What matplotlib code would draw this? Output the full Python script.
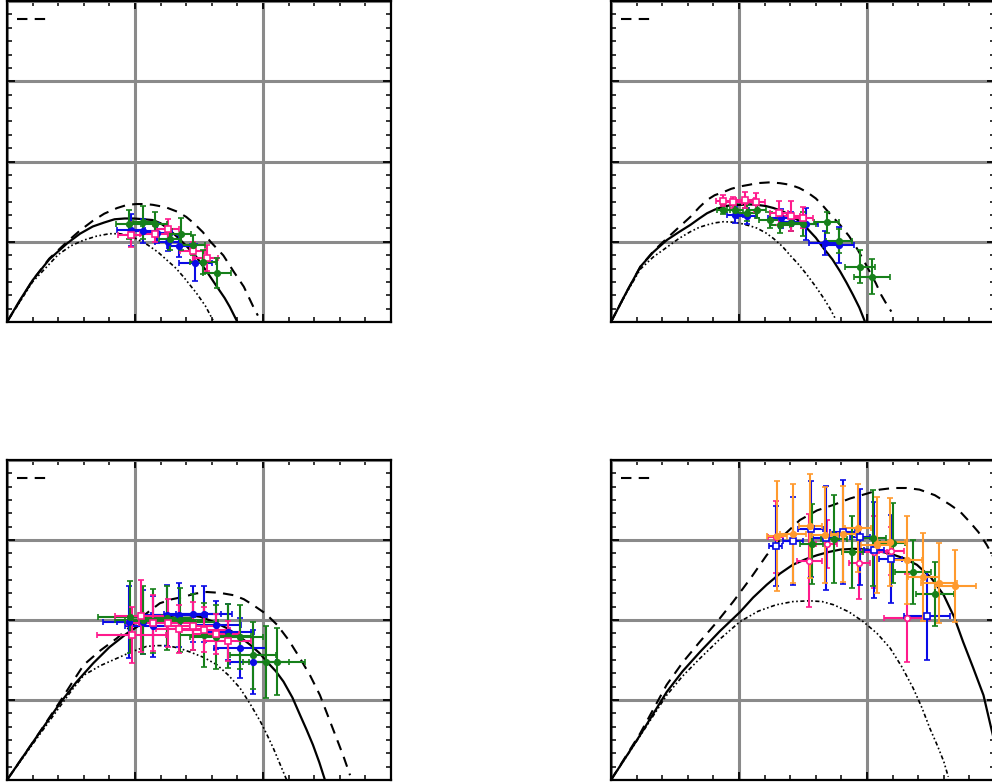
import numpy as np
import matplotlib
matplotlib.use("Agg")
import matplotlib.pyplot as plt
from matplotlib.ticker import MultipleLocator

# ---- model curves, x in [0, 3], y in [0, 4] ----
p1_solid_x = [0, 0.1, 0.2, 0.33, 0.47, 0.57, 0.67, 0.76, 0.84, 0.92, 0.99, 1.07, 1.14, 1.2, 1.26, 1.33, 1.4, 1.48, 1.56, 1.64, 1.70, 1.74, 1.80]
p1_solid_y = [0, 0.27, 0.52, 0.78, 0.98, 1.10, 1.19, 1.24, 1.28, 1.29, 1.29, 1.28, 1.27, 1.23, 1.16, 1.06, 0.95, 0.81, 0.63, 0.44, 0.30, 0.19, 0.0]
p1_dash_x = [0, 0.2, 0.33, 0.47, 0.57, 0.67, 0.76, 0.86, 0.94, 1.01, 1.08, 1.14, 1.24, 1.33, 1.40, 1.46, 1.53, 1.59, 1.69, 1.77, 1.85, 1.93, 1.96]
p1_dash_y = [0, 0.52, 0.79, 1.0, 1.14, 1.26, 1.35, 1.42, 1.46, 1.47, 1.47, 1.46, 1.43, 1.375, 1.31, 1.23, 1.12, 1.0, 0.83, 0.63, 0.44, 0.17, 0.08]
p1_dot_x = [0, 0.2, 0.4, 0.5, 0.6, 0.7, 0.8, 0.88, 0.95, 1.02, 1.1, 1.18, 1.25, 1.32, 1.38, 1.43, 1.48, 1.55, 1.61]
p1_dot_y = [0, 0.50, 0.84, 0.95, 1.02, 1.07, 1.10, 1.10, 1.08, 1.03, 0.96, 0.87, 0.77, 0.67, 0.56, 0.46, 0.36, 0.20, 0.02]

p2_solid_x = [0, 0.12, 0.23, 0.33, 0.435, 0.53, 0.62, 0.69, 0.75, 0.81, 0.88, 0.94, 1.01, 1.08, 1.14, 1.21, 1.27, 1.34, 1.40, 1.47, 1.53, 1.60, 1.66, 1.73, 1.79, 1.84, 1.89, 1.94, 1.98]
p2_solid_y = [0, 0.37, 0.69, 0.87, 1.02, 1.12, 1.21, 1.29, 1.355, 1.40, 1.44, 1.455, 1.46, 1.465, 1.46, 1.445, 1.42, 1.38, 1.33, 1.26, 1.17, 1.05, 0.92, 0.78, 0.63, 0.49, 0.34, 0.18, 0.02]
p2_dash_x = [0, 0.12, 0.23, 0.33, 0.435, 0.53, 0.62, 0.69, 0.75, 0.81, 0.88, 0.94, 1.01, 1.08, 1.14, 1.24, 1.32, 1.40, 1.47, 1.53, 1.60, 1.66, 1.72, 1.79, 1.86, 1.92, 1.97, 2.02, 2.07, 2.11, 2.15, 2.19]
p2_dash_y = [0, 0.37, 0.69, 0.88, 1.04, 1.18, 1.31, 1.43, 1.52, 1.58, 1.62, 1.66, 1.69, 1.71, 1.73, 1.74, 1.73, 1.71, 1.67, 1.62, 1.54, 1.44, 1.33, 1.21, 1.07, 0.92, 0.78, 0.63, 0.48, 0.34, 0.23, 0.13]
p2_dot_x = [0, 0.12, 0.23, 0.33, 0.435, 0.53, 0.62, 0.69, 0.75, 0.81, 0.88, 0.94, 1.01, 1.08, 1.14, 1.21, 1.27, 1.34, 1.40, 1.47, 1.53, 1.60, 1.66, 1.71, 1.75]
p2_dot_y = [0, 0.36, 0.66, 0.81, 0.93, 1.04, 1.125, 1.18, 1.21, 1.235, 1.25, 1.245, 1.23, 1.20, 1.17, 1.11, 1.04, 0.94, 0.83, 0.71, 0.59, 0.44, 0.30, 0.17, 0.05]

p3_solid_x = [0, 0.206, 0.414, 0.54, 0.674, 0.80, 0.935, 1.03, 1.117, 1.22, 1.326, 1.42, 1.51, 1.61, 1.716, 1.81, 1.90, 1.97, 2.03, 2.10, 2.16, 2.23, 2.29, 2.34, 2.39, 2.44, 2.48]
p3_solid_y = [0, 0.48, 0.96, 1.22, 1.46, 1.66, 1.83, 1.93, 2.0, 2.04, 2.06, 2.06, 2.04, 1.98, 1.90, 1.80, 1.69, 1.59, 1.48, 1.36, 1.23, 1.03, 0.81, 0.63, 0.44, 0.22, 0.02]
p3_dash_x = [0, 0.206, 0.414, 0.51, 0.60, 0.73, 0.857, 0.95, 1.04, 1.12, 1.195, 1.29, 1.38, 1.47, 1.56, 1.66, 1.77, 1.85, 1.92, 2.02, 2.11, 2.20, 2.29, 2.37, 2.445, 2.51, 2.575, 2.63, 2.68]
p3_dash_y = [0, 0.48, 0.98, 1.22, 1.44, 1.62, 1.77, 1.90, 2.02, 2.12, 2.21, 2.26, 2.29, 2.33, 2.35, 2.34, 2.31, 2.26, 2.19, 2.08, 1.94, 1.75, 1.52, 1.30, 1.06, 0.79, 0.52, 0.29, 0.06]
p3_dot_x = [0, 0.206, 0.414, 0.51, 0.60, 0.73, 0.857, 0.97, 1.09, 1.17, 1.25, 1.34, 1.43, 1.54, 1.64, 1.73, 1.82, 1.90, 1.98, 2.03, 2.08, 2.13, 2.185]
p3_dot_y = [0, 0.46, 0.92, 1.13, 1.31, 1.43, 1.52, 1.60, 1.67, 1.68, 1.68, 1.65, 1.60, 1.53, 1.44, 1.31, 1.15, 0.95, 0.73, 0.57, 0.40, 0.21, 0.0]

p4_solid_x = [0, 0.227, 0.435, 0.56, 0.695, 0.85, 1.008, 1.11, 1.216, 1.32, 1.42, 1.52, 1.61, 1.70, 1.79, 1.90, 2.0, 2.09, 2.18, 2.29, 2.39, 2.50, 2.60, 2.68, 2.75, 2.83, 2.91, 2.97, 3.0]
p4_solid_y = [0, 0.56, 1.10, 1.36, 1.60, 1.86, 2.10, 2.28, 2.44, 2.58, 2.69, 2.76, 2.81, 2.85, 2.88, 2.89, 2.88, 2.86, 2.83, 2.77, 2.69, 2.53, 2.31, 2.04, 1.73, 1.40, 1.06, 0.65, 0.45]
p4_dash_x = [0, 0.227, 0.435, 0.56, 0.695, 0.83, 0.955, 1.09, 1.216, 1.35, 1.476, 1.61, 1.74, 1.87, 2.0, 2.10, 2.205, 2.31, 2.41, 2.53, 2.65, 2.73, 2.80, 2.87, 2.935, 3.0]
p4_dash_y = [0, 0.58, 1.19, 1.47, 1.73, 1.98, 2.23, 2.52, 2.81, 3.06, 3.25, 3.37, 3.44, 3.52, 3.58, 3.63, 3.65, 3.65, 3.63, 3.56, 3.44, 3.35, 3.23, 3.10, 2.94, 2.75]
p4_dot_x = [0, 0.227, 0.435, 0.56, 0.695, 0.85, 1.008, 1.15, 1.29, 1.42, 1.55, 1.65, 1.74, 1.86, 1.97, 2.08, 2.18, 2.27, 2.36, 2.43, 2.49, 2.55, 2.60, 2.635]
p4_dot_y = [0, 0.55, 1.06, 1.30, 1.52, 1.76, 1.98, 2.11, 2.19, 2.23, 2.24, 2.23, 2.19, 2.10, 1.98, 1.83, 1.65, 1.42, 1.15, 0.90, 0.65, 0.43, 0.23, 0.04]

# ---- data points: rows of [x, y, xerr, yerr] ----
p1_pink = [[0.966, 1.09, 0.10, 0.15], [1.16, 1.10, 0.12, 0.10], [1.255, 1.16, 0.09, 0.12],
           [1.45, 0.88, 0.10, 0.12], [1.56, 0.80, 0.09, 0.16]]
p1_blue = [[0.966, 1.15, 0.11, 0.20], [1.065, 1.13, 0.10, 0.15], [1.17, 1.11, 0.12, 0.12],
           [1.26, 1.00, 0.10, 0.12], [1.34, 0.95, 0.09, 0.14], [1.47, 0.74, 0.13, 0.23]]
p1_green = [[0.95, 1.22, 0.10, 0.18], [1.065, 1.24, 0.08, 0.20], [1.16, 1.22, 0.09, 0.15],
            [1.27, 1.03, 0.08, 0.13], [1.36, 1.10, 0.08, 0.20], [1.45, 0.96, 0.10, 0.12],
            [1.53, 0.75, 0.10, 0.15], [1.64, 0.61, 0.11, 0.19]]

p2_pink = [[0.877, 1.51, 0.06, 0.07], [0.955, 1.49, 0.07, 0.07], [1.047, 1.52, 0.07, 0.10],
           [1.13, 1.49, 0.07, 0.12], [1.31, 1.355, 0.07, 0.15], [1.41, 1.32, 0.07, 0.19],
           [1.50, 1.30, 0.08, 0.13]]
p2_blue = [[0.97, 1.33, 0.06, 0.10], [1.06, 1.32, 0.07, 0.10], [1.33, 1.29, 0.10, 0.12],
           [1.41, 1.25, 0.10, 0.12], [1.52, 1.22, 0.10, 0.20], [1.67, 0.98, 0.12, 0.15],
           [1.78, 0.96, 0.12, 0.22]]
p2_green = [[0.877, 1.40, 0.05, 0.06], [0.97, 1.40, 0.06, 0.08], [1.06, 1.36, 0.07, 0.10],
            [1.14, 1.395, 0.07, 0.10], [1.24, 1.27, 0.08, 0.10], [1.32, 1.21, 0.08, 0.10],
            [1.41, 1.23, 0.09, 0.10], [1.50, 1.22, 0.10, 0.15], [1.685, 1.24, 0.10, 0.13],
            [1.78, 1.01, 0.10, 0.15], [1.945, 0.69, 0.12, 0.21], [2.04, 0.565, 0.14, 0.22]]

p3_pink = [[0.974, 1.81, 0.27, 0.35], [1.045, 2.05, 0.20, 0.45], [1.14, 1.96, 0.20, 0.35],
           [1.255, 1.96, 0.22, 0.30], [1.346, 1.89, 0.18, 0.30], [1.45, 1.92, 0.20, 0.30],
           [1.54, 1.88, 0.20, 0.28], [1.63, 1.82, 0.18, 0.25], [1.73, 1.74, 0.18, 0.25]]
p3_blue = [[0.95, 1.98, 0.20, 0.45], [1.06, 1.97, 0.20, 0.40], [1.14, 1.92, 0.22, 0.38],
           [1.25, 2.06, 0.22, 0.38], [1.346, 2.06, 0.22, 0.40], [1.45, 2.07, 0.22, 0.35],
           [1.54, 2.07, 0.22, 0.35], [1.63, 1.94, 0.20, 0.30], [1.73, 1.85, 0.20, 0.35],
           [1.82, 1.65, 0.20, 0.38], [1.92, 1.48, 0.18, 0.40]]
p3_green = [[0.96, 2.04, 0.25, 0.45], [1.06, 2.00, 0.22, 0.42], [1.14, 1.99, 0.22, 0.40],
            [1.25, 2.02, 0.20, 0.40], [1.35, 2.00, 0.20, 0.40], [1.45, 1.98, 0.20, 0.35],
            [1.54, 1.81, 0.20, 0.40], [1.63, 1.79, 0.20, 0.40], [1.73, 1.80, 0.18, 0.40],
            [1.82, 1.79, 0.18, 0.40], [1.92, 1.56, 0.18, 0.42], [2.02, 1.48, 0.18, 0.45],
            [2.11, 1.48, 0.22, 0.42]]

p4_pink = [[1.287, 3.04, 0.06, 0.45], [1.55, 2.74, 0.10, 0.58], [1.685, 2.95, 0.08, 0.30],
           [1.94, 2.71, 0.08, 0.45], [2.055, 2.85, 0.10, 0.45], [2.19, 2.86, 0.10, 0.30],
           [2.315, 2.03, 0.18, 0.55]]
p4_blue = [[1.287, 2.92, 0.05, 0.50], [1.42, 2.99, 0.08, 0.55], [1.56, 3.14, 0.10, 0.60],
           [1.68, 3.02, 0.10, 0.65], [1.81, 3.10, 0.10, 0.65], [1.945, 3.04, 0.08, 0.60],
           [2.055, 2.88, 0.08, 0.60], [2.185, 2.76, 0.09, 0.55], [2.47, 2.05, 0.18, 0.55]]
p4_green = [[1.57, 2.95, 0.09, 0.50], [1.74, 3.01, 0.10, 0.55], [1.885, 2.85, 0.08, 0.45],
            [2.045, 3.03, 0.10, 0.60], [2.20, 2.96, 0.10, 0.50], [2.36, 2.60, 0.14, 0.40],
            [2.53, 2.32, 0.15, 0.40]]
p4_orange = [[1.295, 3.05, 0.08, 0.69], [1.42, 3.08, 0.10, 0.62], [1.555, 3.17, 0.09, 0.65],
             [1.67, 3.06, 0.10, 0.60], [1.815, 3.08, 0.10, 0.60], [1.93, 3.15, 0.10, 0.55],
             [2.075, 2.94, 0.12, 0.60], [2.18, 2.97, 0.12, 0.55], [2.31, 2.75, 0.12, 0.55],
             [2.44, 2.54, 0.12, 0.55], [2.56, 2.46, 0.14, 0.50], [2.69, 2.42, 0.16, 0.45]]

PINK = '#ff1a8c'
BLUE = '#0a0ae6'
GREEN = '#16801a'
ORANGE = '#ff9a2e'


def setup_axes(ax):
    ax.set_xlim(0, 3)
    ax.set_ylim(0, 4)
    ax.xaxis.set_major_locator(MultipleLocator(1))
    ax.xaxis.set_minor_locator(MultipleLocator(0.2))
    ax.yaxis.set_major_locator(MultipleLocator(1))
    ax.yaxis.set_minor_locator(MultipleLocator(1 / 6))
    ax.tick_params(which='both', direction='in', top=True, right=True,
                   labelbottom=False, labelleft=False, color='black')
    ax.tick_params(which='major', length=6, width=1.3)
    ax.tick_params(which='minor', length=3.5, width=1.1)
    ax.grid(True, which='major', color='#8a8a8a', linewidth=2.2,
            linestyle='-', zorder=1)
    ax.set_axisbelow(True)
    for s in ax.spines.values():
        s.set_linewidth(1.6)
    # legend sample (dashed line)
    ax.plot([0.027, 0.107], [0.945, 0.945], transform=ax.transAxes,
            color='black', lw=1.5, dashes=(5, 3.5))


def draw_curves(ax, sx, sy, dx, dy, ox, oy):
    ax.plot(sx, sy, color='black', lw=1.6, zorder=2)
    ax.plot(dx, dy, color='black', lw=1.5, dashes=(5, 3.5), zorder=2)
    ax.plot(ox, oy, color='black', lw=1.2, dashes=(2.5, 1.5, 1, 1.5, 1, 1.5), zorder=2)


def draw_points(ax, rows, color, marker, filled=True):
    a = np.array(rows)
    ax.errorbar(a[:, 0], a[:, 1], xerr=a[:, 2], yerr=a[:, 3], fmt=marker,
                color=color, ms=4, mfc=color if filled else 'white', mec=color,
                mew=1.2, elinewidth=1.5, capsize=2.5, capthick=1.3, zorder=3)


fig = plt.figure(figsize=(9.92, 7.84), dpi=100)
W = 384 / 992
ax1 = fig.add_axes([7 / 992, 1 - 322 / 784, W, 321 / 784])
ax2 = fig.add_axes([611 / 992, 1 - 322 / 784, W, 321 / 784])
ax3 = fig.add_axes([7 / 992, 1 - 780 / 784, W, 320 / 784])
ax4 = fig.add_axes([611 / 992, 1 - 780 / 784, W, 320 / 784])

for ax in (ax1, ax2, ax3, ax4):
    setup_axes(ax)

draw_curves(ax1, p1_solid_x, p1_solid_y, p1_dash_x, p1_dash_y, p1_dot_x, p1_dot_y)
draw_points(ax1, p1_blue, BLUE, 'o')
draw_points(ax1, p1_pink, PINK, 's', filled=False)
draw_points(ax1, p1_green, GREEN, 'o')

draw_curves(ax2, p2_solid_x, p2_solid_y, p2_dash_x, p2_dash_y, p2_dot_x, p2_dot_y)
draw_points(ax2, p2_blue, BLUE, 'o')
draw_points(ax2, p2_green, GREEN, 'o')
draw_points(ax2, p2_pink, PINK, 's', filled=False)

draw_curves(ax3, p3_solid_x, p3_solid_y, p3_dash_x, p3_dash_y, p3_dot_x, p3_dot_y)
draw_points(ax3, p3_blue, BLUE, 'o')
draw_points(ax3, p3_green, GREEN, 'o')
draw_points(ax3, p3_pink, PINK, 's', filled=False)

draw_curves(ax4, p4_solid_x, p4_solid_y, p4_dash_x, p4_dash_y, p4_dot_x, p4_dot_y)
draw_points(ax4, p4_pink, PINK, 'o', filled=False)
draw_points(ax4, p4_blue, BLUE, 's', filled=False)
draw_points(ax4, p4_green, GREEN, 'o')
draw_points(ax4, p4_orange, ORANGE, 'o')

fig.savefig('out.png', dpi=100)
